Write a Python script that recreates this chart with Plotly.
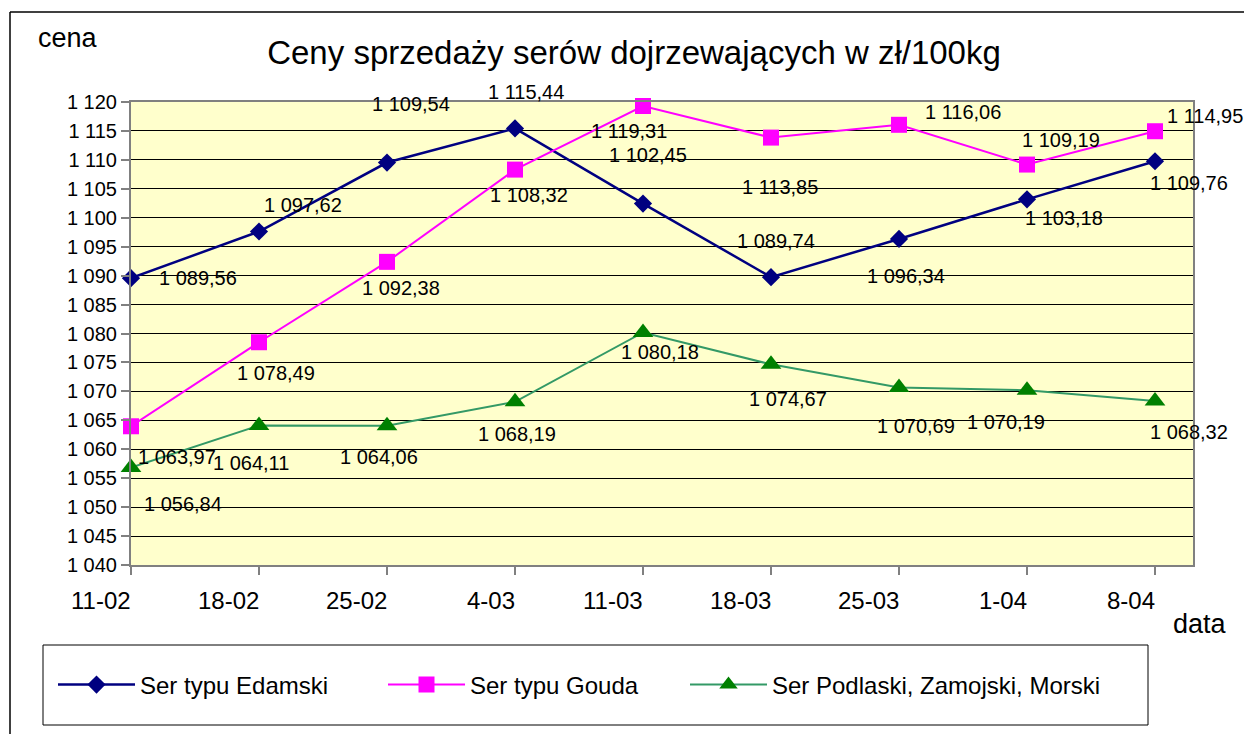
import plotly.graph_objects as go

# ---------------- data ----------------
categories = ["11-02", "18-02", "25-02", "4-03", "11-03", "18-03", "25-03", "1-04", "8-04"]
edamski = [1089.56, 1097.62, 1109.54, 1115.44, 1102.45, 1089.74, 1096.34, 1103.18, 1109.76]
gouda = [1063.97, 1078.49, 1092.38, 1108.32, 1119.31, 1113.85, 1116.06, 1109.19, 1114.95]
podlaski = [1056.84, 1064.11, 1064.06, 1068.19, 1080.18, 1074.67, 1070.69, 1070.19, 1068.32]
series_names = ["Ser typu Edamski", "Ser typu Gouda", "Ser Podlaski, Zamojski, Morski"]
y_ticks = list(range(1040, 1121, 5))

# label offsets in pixels (dx right, dy up) relative to each point
edamski_off = [(67, 0), (44, 27), (24, 59), (11, 36), (5, 49), (5, 36), (7, -37), (37, -19), (34, -22)]
gouda_off = [(46, -31), (17, -31), (14, -26), (14, -25), (-14, -25), (9, -49), (64, 13), (34, 25), (50, 15)]
podlaski_off = [(52, -36), (-8, -38), (-8, -31), (2, -32), (17, -20), (17, -35), (17, -39), (-21, -32), (34, -31)]

# legend entry left edges (pixels)
legend_x_px = [53, 383, 685]

FONT = "Liberation Sans, Arial, sans-serif"


def fmt(v):
    s = f"{v:,.2f}"
    return s.replace(",", "X").replace(".", ",").replace("X", " ")


# plot area in pixels
L, R, T, B = 131, 1193, 102, 565
W, H = 1244, 734


def px(xp):
    return (xp - L) / (R - L)


def py(yp):
    return (B - yp) / (B - T)


x_idx = list(range(len(categories)))
legend_ids = ["legend", "legend2", "legend3"]

fig = go.Figure()
styles = [
    dict(line=dict(color="#000080", width=2.5), marker=dict(symbol="diamond", size=14, color="#000080")),
    dict(line=dict(color="#FF00FF", width=2), marker=dict(symbol="square", size=16, color="#FF00FF")),
    dict(line=dict(color="#339966", width=2), marker=dict(symbol="triangle-up", size=18, color="#008000")),
]
for name, vals, st, lg in zip(series_names, [edamski, gouda, podlaski], styles, legend_ids):
    fig.add_trace(go.Scatter(
        x=x_idx, y=vals, name=name, mode="lines+markers",
        line=st["line"], marker=st["marker"], cliponaxis=False,
        hoverinfo="skip", legend=lg,
    ))

annotations = []
for vals, offs in [(edamski, edamski_off), (gouda, gouda_off), (podlaski, podlaski_off)]:
    for i, (v, (dx, dy)) in enumerate(zip(vals, offs)):
        annotations.append(dict(
            x=i, y=v, xref="x", yref="y", text=fmt(v), showarrow=False,
            xanchor="center", yanchor="middle",
            xshift=dx, yshift=dy, font=dict(family=FONT, size=20, color="black"),
        ))

# category labels (right-aligned at their tick, as in the reference)
for i, c in enumerate(categories):
    annotations.append(dict(
        x=i, y=py(600), xref="x", yref="paper", text=c, showarrow=False,
        xanchor="right", yanchor="middle", xshift=2,
        font=dict(family=FONT, size=24, color="black"),
    ))

annotations.append(dict(
    x=px(68), y=py(38), xref="paper", yref="paper", text="cena", showarrow=False,
    xanchor="center", yanchor="middle",
    font=dict(family=FONT, size=27, color="black"),
))
annotations.append(dict(
    x=px(1200), y=py(624), xref="paper", yref="paper", text="data", showarrow=False,
    xanchor="center", yanchor="middle",
    font=dict(family=FONT, size=27, color="black"),
))

shapes = [
    # outer chart border (top and left visible)
    dict(type="line", xref="paper", yref="paper", x0=px(10), x1=px(W + 5), y0=py(12), y1=py(12),
         line=dict(color="black", width=1.5)),
    dict(type="line", xref="paper", yref="paper", x0=px(10), x1=px(10), y0=py(12), y1=py(H + 5),
         line=dict(color="black", width=1.5)),
    # legend box
    dict(type="rect", xref="paper", yref="paper", x0=px(43), x1=px(1148), y0=py(725), y1=py(645),
         line=dict(color="black", width=1), fillcolor="rgba(0,0,0,0)"),
]

legend_common = dict(
    orientation="h", xanchor="left", y=py(685), yanchor="middle",
    bgcolor="rgba(0,0,0,0)", borderwidth=0, itemwidth=77,
    font=dict(family=FONT, size=24, color="black"),
)

fig.update_layout(
    width=W, height=H,
    margin=dict(l=L, r=W - R, t=T, b=H - B, pad=0),
    paper_bgcolor="white",
    plot_bgcolor="#FFFFCC",
    separators=", ",
    font=dict(family=FONT, color="black"),
    title=dict(
        text="Ceny sprzedaży serów dojrzewających w zł/100kg",
        x=634 / W, xanchor="center", y=1 - 52 / H, yanchor="middle",
        font=dict(family=FONT, size=33, color="black"),
    ),
    xaxis=dict(
        range=[0, (R - L) / 128.0], tickvals=x_idx, ticktext=categories,
        showticklabels=False,
        ticks="outside", ticklen=8, tickcolor="#808080", tickwidth=1.5,
        showline=True, linecolor="#808080", linewidth=2, mirror=True,
        showgrid=False, zeroline=False,
    ),
    yaxis=dict(
        range=[1040, 1120], tickvals=y_ticks, tickformat=",d",
        ticks="outside", ticklen=8, tickcolor="#808080", tickwidth=1.5,
        showline=True, linecolor="#808080", linewidth=2, mirror=True,
        showgrid=True, gridcolor="black", gridwidth=1, zeroline=False,
        tickfont=dict(family=FONT, size=20, color="black"),
    ),
    showlegend=True,
    legend=dict(x=px(legend_x_px[0]), **legend_common),
    legend2=dict(x=px(legend_x_px[1]), **legend_common),
    legend3=dict(x=px(legend_x_px[2]), **legend_common),
    annotations=annotations,
    shapes=shapes,
)

fig.write_html(
    "out.html",
    config={"displayModeBar": False},
    post_script="document.body.style.margin='0';document.body.style.overflow='hidden';",
)
